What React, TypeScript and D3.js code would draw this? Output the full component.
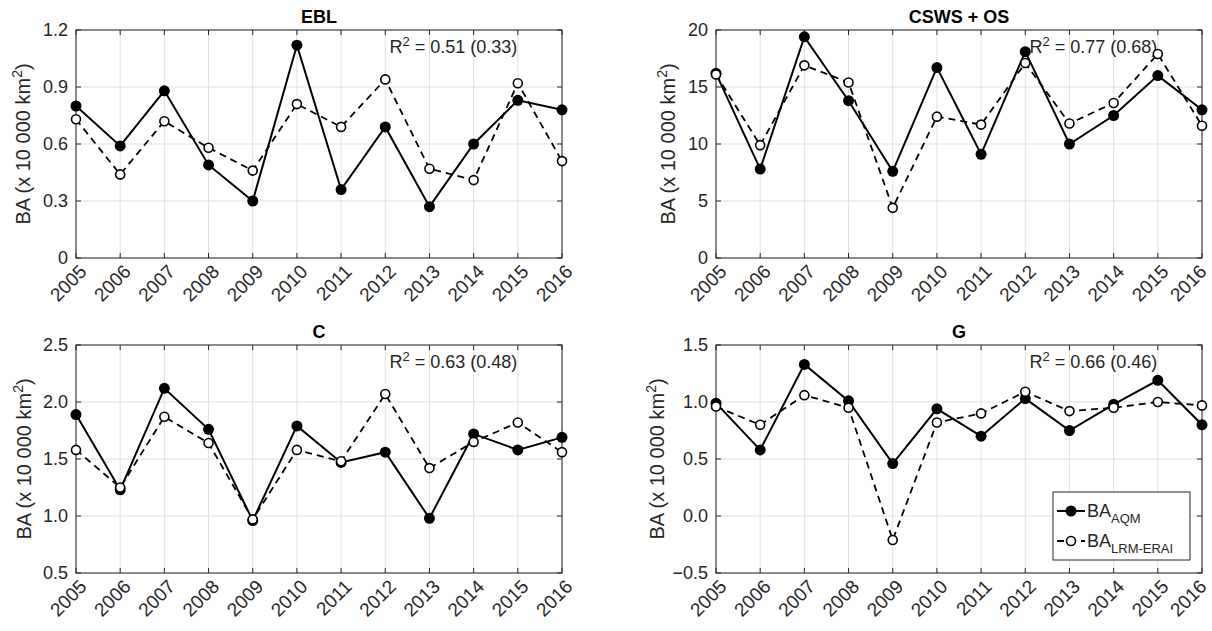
import React from "react";
import * as d3 from "d3";

const years = [2005, 2006, 2007, 2008, 2009, 2010, 2011, 2012, 2013, 2014, 2015, 2016];

const eblAqm = [0.8, 0.59, 0.88, 0.49, 0.3, 1.12, 0.36, 0.69, 0.27, 0.6, 0.83, 0.78];
const eblLrm = [0.73, 0.44, 0.72, 0.58, 0.46, 0.81, 0.69, 0.94, 0.47, 0.41, 0.92, 0.51];

const cswsAqm = [16.2, 7.8, 19.4, 13.8, 7.6, 16.7, 9.1, 18.1, 10.0, 12.5, 16.0, 13.0];
const cswsLrm = [16.1, 9.9, 16.9, 15.4, 4.4, 12.4, 11.7, 17.1, 11.8, 13.6, 17.9, 11.6];

const cAqm = [1.89, 1.23, 2.12, 1.76, 0.96, 1.79, 1.47, 1.56, 0.98, 1.72, 1.58, 1.69];
const cLrm = [1.58, 1.25, 1.87, 1.64, 0.97, 1.58, 1.48, 2.07, 1.42, 1.65, 1.82, 1.56];

const gAqm = [0.99, 0.58, 1.33, 1.01, 0.46, 0.94, 0.7, 1.03, 0.75, 0.98, 1.19, 0.8];
const gLrm = [0.96, 0.8, 1.06, 0.95, -0.21, 0.82, 0.9, 1.09, 0.92, 0.95, 1.0, 0.97];

const titles = ["EBL", "CSWS + OS", "C", "G"];
const r2Main = ["0.51", "0.77", "0.63", "0.66"];
const r2Alt = ["0.33", "0.68", "0.48", "0.46"];
const yDomains: [number, number][] = [[0, 1.2], [0, 20], [0.5, 2.5], [-0.5, 1.5]];
const yTicks = [
  [0, 0.3, 0.6, 0.9, 1.2],
  [0, 5, 10, 15, 20],
  [0.5, 1.0, 1.5, 2.0, 2.5],
  [-0.5, 0.0, 0.5, 1.0, 1.5],
];
const yTickFormats = [",.1~f", "d", ".1f", ".1f"];
const aqmSeries = [eblAqm, cswsAqm, cAqm, gAqm];
const lrmSeries = [eblLrm, cswsLrm, cLrm, gLrm];
const legendLabels = ["AQM", "LRM-ERAI"];

const FONT = "'Liberation Sans', Arial, Helvetica, sans-serif";
const TXT = "#262626";

const CANVAS_W = 1212;
const W = 486;
const H = 228;
const lefts = [76, 716, 76, 716];
const tops = [30, 30, 345, 345];
const yLabelOffsets = [53, 48, 52, 59];

function Panel({ i }: { i: number }) {
  const left = lefts[i];
  const top = tops[i];
  const x = d3.scaleLinear().domain([years[0], years[years.length - 1]]).range([left, left + W]);
  const y = d3.scaleLinear().domain(yDomains[i]).range([top + H, top]);
  const fmt = d3.format(yTickFormats[i]);
  const line = d3
    .line<number>()
    .x((_, k) => x(years[k]))
    .y((v) => y(v));
  const aqm = aqmSeries[i];
  const lrm = lrmSeries[i];
  const bottom = top + H;
  const tl = 5;
  return (
    <g>
      {years.map((yr) => (
        <line key={"gx" + yr} x1={x(yr)} x2={x(yr)} y1={top} y2={bottom} stroke="#e0e0e0" strokeWidth={1} />
      ))}
      {yTicks[i].map((t) => (
        <line key={"gy" + t} x1={left} x2={left + W} y1={y(t)} y2={y(t)} stroke="#e0e0e0" strokeWidth={1} />
      ))}
      {years.map((yr) => (
        <g key={"tx" + yr}>
          <line x1={x(yr)} x2={x(yr)} y1={bottom} y2={bottom - tl} stroke={TXT} />
          <line x1={x(yr)} x2={x(yr)} y1={top} y2={top + tl} stroke={TXT} />
        </g>
      ))}
      {yTicks[i].map((t) => (
        <g key={"ty" + t}>
          <line x1={left} x2={left + tl} y1={y(t)} y2={y(t)} stroke={TXT} />
          <line x1={left + W} x2={left + W - tl} y1={y(t)} y2={y(t)} stroke={TXT} />
        </g>
      ))}
      <rect x={left} y={top} width={W} height={H} fill="none" stroke={TXT} strokeWidth={1} />
      {yTicks[i].map((t) => (
        <text key={"yl" + t} x={left - 8} y={y(t)} dy="0.36em" textAnchor="end" fontSize={18} fill={TXT} fontFamily={FONT}>
          {fmt(t)}
        </text>
      ))}
      {years.map((yr) => {
        const ax = Math.min(x(yr) + 7, CANVAS_W - 9);
        return (
          <text
            key={"xl" + yr}
            transform={`translate(${ax},${bottom + 10}) rotate(-45)`}
            textAnchor="end"
            dy="0.36em"
            fontSize={19}
            fill={TXT}
            fontFamily={FONT}
          >
            {yr}
          </text>
        );
      })}
      <text
        transform={`translate(${left - yLabelOffsets[i]},${top + H / 2}) rotate(-90)`}
        textAnchor="middle"
        fontSize={20}
        fill={TXT}
        fontFamily={FONT}
        dy="0.36em"
      >
        BA (x 10 000 km
        <tspan dy="-8" fontSize={14}>2</tspan>
        <tspan dy="8">)</tspan>
      </text>
      <text x={left + W / 2} y={top - 7} textAnchor="middle" fontSize={18} fontWeight="bold" fill="#000" fontFamily={FONT}>
        {titles[i]}
      </text>
      <text x={left + 0.645 * W} y={top + 23} fontSize={18} fill={TXT} fontFamily={FONT}>
        R<tspan dy="-7" fontSize={13}>2</tspan>
        <tspan dy="7">{` = ${r2Main[i]} (${r2Alt[i]})`}</tspan>
      </text>
      <path d={line(aqm) || ""} fill="none" stroke="#000" strokeWidth={2} />
      <path d={line(lrm) || ""} fill="none" stroke="#000" strokeWidth={1.8} strokeDasharray="7,5" />
      {aqm.map((v, k) => (
        <circle key={"a" + k} cx={x(years[k])} cy={y(v)} r={5.5} fill="#000" />
      ))}
      {lrm.map((v, k) => (
        <circle key={"l" + k} cx={x(years[k])} cy={y(v)} r={4.5} fill="#fff" stroke="#000" strokeWidth={1.6} />
      ))}
    </g>
  );
}

function Legend() {
  const x0 = 1053;
  const y0 = 492;
  const w = 137;
  const h = 68;
  const rows = [y0 + 19, y0 + 49];
  return (
    <g>
      <rect x={x0} y={y0} width={w} height={h} fill="#fff" stroke={TXT} strokeWidth={1} />
      {legendLabels.map((lab, k) => (
        <g key={lab}>
          <line
            x1={x0 + 4}
            x2={x0 + 32}
            y1={rows[k]}
            y2={rows[k]}
            stroke="#000"
            strokeWidth={k === 0 ? 2 : 1.8}
            strokeDasharray={k === 0 ? undefined : "7,5"}
          />
          {k === 0 ? (
            <circle cx={x0 + 18} cy={rows[k]} r={5.5} fill="#000" />
          ) : (
            <circle cx={x0 + 18} cy={rows[k]} r={4.5} fill="#fff" stroke="#000" strokeWidth={1.6} />
          )}
          <text x={x0 + 34} y={rows[k]} dy="0.36em" fontSize={18} fill={TXT} fontFamily={FONT}>
            BA
            <tspan dy="6" fontSize={13}>{lab}</tspan>
          </text>
        </g>
      ))}
    </g>
  );
}

export default function App() {
  return (
    <svg
      width={CANVAS_W}
      height={631}
      style={{ position: "absolute", left: 0, top: 0, background: "#fff" }}
    >
      <rect x={0} y={0} width={CANVAS_W} height={631} fill="#fff" />
      {[0, 1, 2, 3].map((i) => (
        <Panel key={i} i={i} />
      ))}
      <Legend />
    </svg>
  );
}
